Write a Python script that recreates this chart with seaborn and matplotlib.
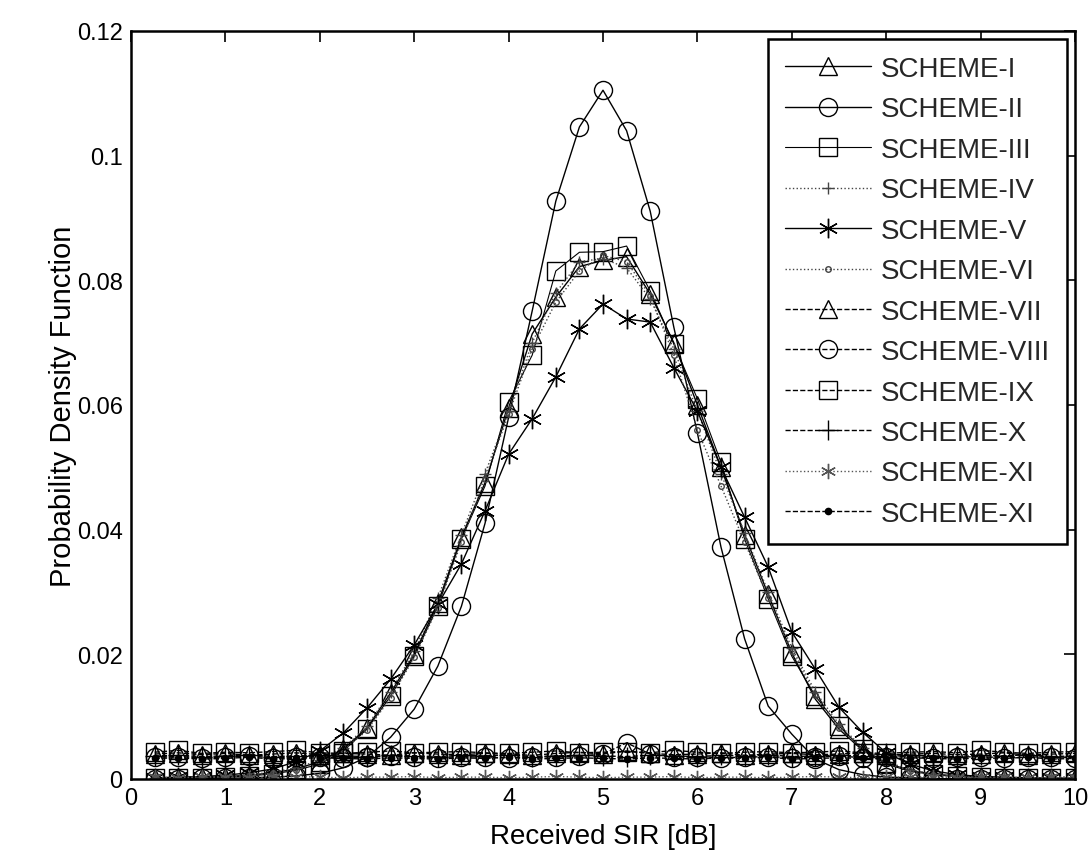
import numpy as np
import pandas as pd
import matplotlib
matplotlib.use("Agg")
import matplotlib.pyplot as plt
import seaborn as sns

# ---------------- data ----------------
sir_db = [0.25, 0.5, 0.75, 1.0, 1.25, 1.5, 1.75, 2.0, 2.25, 2.5,
          2.75, 3.0, 3.25, 3.5, 3.75, 4.0, 4.25, 4.5, 4.75, 5.0,
          5.25, 5.5, 5.75, 6.0, 6.25, 6.5, 6.75, 7.0, 7.25, 7.5,
          7.75, 8.0, 8.25, 8.5, 8.75, 9.0, 9.25, 9.5, 9.75, 10.0]

scheme_names = ["SCHEME-I", "SCHEME-II", "SCHEME-III", "SCHEME-IV", "SCHEME-V", "SCHEME-VI",
                "SCHEME-VII", "SCHEME-VIII", "SCHEME-IX", "SCHEME-X", "SCHEME-XI", "SCHEME-XI"]

pdf_I = [0.0002, 0.0002, 0.0003, 0.0004, 0.0006, 0.0010, 0.0016, 0.0028, 0.0048, 0.0082,
         0.0138, 0.0200, 0.0282, 0.0388, 0.0475, 0.0595, 0.0714, 0.0773, 0.0822, 0.0832,
         0.0838, 0.0778, 0.0700, 0.0600, 0.0500, 0.0392, 0.0296, 0.0202, 0.0128, 0.0080,
         0.0046, 0.0024, 0.0013, 0.0007, 0.0004, 0.0003, 0.0002, 0.0001, 0.0001, 0.0001]
pdf_II = [0.0000, 0.0000, 0.0001, 0.0001, 0.0002, 0.0003, 0.0005, 0.0009, 0.0018, 0.0035,
          0.0067, 0.0112, 0.0181, 0.0277, 0.0410, 0.0580, 0.0751, 0.0927, 0.1046, 0.1105,
          0.1040, 0.0911, 0.0725, 0.0555, 0.0372, 0.0225, 0.0117, 0.0072, 0.0032, 0.0015,
          0.0007, 0.0003, 0.0002, 0.0001, 0.0000, 0.0000, 0.0000, 0.0000, 0.0000, 0.0000]
pdf_III = [0.0001, 0.0001, 0.0002, 0.0003, 0.0005, 0.0008, 0.0014, 0.0024, 0.0045, 0.0080,
           0.0133, 0.0197, 0.0277, 0.0385, 0.0470, 0.0605, 0.0680, 0.0815, 0.0845, 0.0846,
           0.0855, 0.0783, 0.0698, 0.0610, 0.0508, 0.0385, 0.0289, 0.0197, 0.0133, 0.0085,
           0.0048, 0.0026, 0.0014, 0.0008, 0.0005, 0.0003, 0.0002, 0.0001, 0.0001, 0.0001]
pdf_IV = [0.0002, 0.0002, 0.0003, 0.0004, 0.0007, 0.0011, 0.0018, 0.0030, 0.0050, 0.0085,
          0.0140, 0.0205, 0.0290, 0.0392, 0.0490, 0.0590, 0.0700, 0.0780, 0.0830, 0.0835,
          0.0820, 0.0770, 0.0690, 0.0590, 0.0490, 0.0395, 0.0300, 0.0210, 0.0140, 0.0088,
          0.0050, 0.0028, 0.0015, 0.0008, 0.0005, 0.0003, 0.0002, 0.0001, 0.0001, 0.0001]
pdf_V = [0.0002, 0.0003, 0.0004, 0.0006, 0.0010, 0.0016, 0.0028, 0.0045, 0.0074, 0.0114,
         0.0160, 0.0215, 0.0280, 0.0345, 0.0430, 0.0521, 0.0578, 0.0645, 0.0722, 0.0762,
         0.0738, 0.0733, 0.0660, 0.0590, 0.0500, 0.0420, 0.0340, 0.0236, 0.0176, 0.0115,
         0.0075, 0.0042, 0.0024, 0.0013, 0.0007, 0.0004, 0.0003, 0.0002, 0.0001, 0.0001]
pdf_VI = [0.0001, 0.0002, 0.0002, 0.0003, 0.0005, 0.0009, 0.0015, 0.0026, 0.0046, 0.0078,
          0.0130, 0.0195, 0.0275, 0.0380, 0.0482, 0.0585, 0.0690, 0.0765, 0.0815, 0.0840,
          0.0830, 0.0775, 0.0680, 0.0560, 0.0470, 0.0380, 0.0290, 0.0205, 0.0135, 0.0082,
          0.0047, 0.0025, 0.0013, 0.0007, 0.0004, 0.0003, 0.0002, 0.0001, 0.0001, 0.0001]
pdf_VII = [0.0040, 0.0042, 0.0039, 0.0041, 0.0038, 0.0040, 0.0042, 0.0039, 0.0041, 0.0040,
           0.0038, 0.0042, 0.0040, 0.0039, 0.0041, 0.0040, 0.0038, 0.0041, 0.0043, 0.0040,
           0.0045, 0.0041, 0.0039, 0.0040, 0.0042, 0.0038, 0.0040, 0.0041, 0.0039, 0.0040,
           0.0042, 0.0038, 0.0040, 0.0041, 0.0039, 0.0040, 0.0042, 0.0038, 0.0040, 0.0041]
pdf_VIII = [0.0035, 0.0036, 0.0034, 0.0035, 0.0037, 0.0034, 0.0035, 0.0036, 0.0034, 0.0035,
            0.0037, 0.0035, 0.0034, 0.0036, 0.0035, 0.0034, 0.0036, 0.0035, 0.0037, 0.0040,
            0.0058, 0.0040, 0.0035, 0.0036, 0.0034, 0.0035, 0.0036, 0.0034, 0.0035, 0.0037,
            0.0034, 0.0035, 0.0036, 0.0034, 0.0035, 0.0036, 0.0034, 0.0035, 0.0036, 0.0034]
pdf_IX = [0.0043, 0.0046, 0.0041, 0.0043, 0.0042, 0.0044, 0.0046, 0.0042, 0.0041, 0.0043,
          0.0045, 0.0042, 0.0043, 0.0044, 0.0042, 0.0041, 0.0043, 0.0045, 0.0042, 0.0043,
          0.0044, 0.0042, 0.0046, 0.0043, 0.0041, 0.0043, 0.0044, 0.0042, 0.0043, 0.0045,
          0.0042, 0.0041, 0.0043, 0.0044, 0.0042, 0.0046, 0.0043, 0.0041, 0.0043, 0.0044]
pdf_X = [0.0037, 0.0038, 0.0036, 0.0037, 0.0039, 0.0036, 0.0037, 0.0038, 0.0037, 0.0036,
         0.0038, 0.0037, 0.0036, 0.0038, 0.0037, 0.0039, 0.0036, 0.0037, 0.0038, 0.0037,
         0.0036, 0.0038, 0.0037, 0.0036, 0.0038, 0.0037, 0.0039, 0.0036, 0.0037, 0.0038,
         0.0037, 0.0036, 0.0038, 0.0037, 0.0036, 0.0038, 0.0037, 0.0039, 0.0036, 0.0037]
pdf_XI = [0.0003, 0.0002, 0.0004, 0.0003, 0.0002, 0.0003, 0.0004, 0.0003, 0.0002, 0.0003,
          0.0003, 0.0004, 0.0002, 0.0003, 0.0003, 0.0002, 0.0003, 0.0004, 0.0003, 0.0002,
          0.0003, 0.0003, 0.0004, 0.0002, 0.0003, 0.0003, 0.0002, 0.0003, 0.0004, 0.0003,
          0.0002, 0.0003, 0.0003, 0.0004, 0.0002, 0.0003, 0.0003, 0.0002, 0.0003, 0.0004]
pdf_XII = [0.0033, 0.0034, 0.0032, 0.0033, 0.0035, 0.0032, 0.0033, 0.0034, 0.0033, 0.0032,
           0.0034, 0.0033, 0.0032, 0.0034, 0.0033, 0.0035, 0.0032, 0.0033, 0.0034, 0.0033,
           0.0032, 0.0034, 0.0033, 0.0032, 0.0034, 0.0033, 0.0035, 0.0032, 0.0033, 0.0034,
           0.0033, 0.0032, 0.0034, 0.0033, 0.0032, 0.0034, 0.0033, 0.0035, 0.0032, 0.0033]

series = [pdf_I, pdf_II, pdf_III, pdf_IV, pdf_V, pdf_VI,
          pdf_VII, pdf_VIII, pdf_IX, pdf_X, pdf_XI, pdf_XII]

x_ticks = [0, 1, 2, 3, 4, 5, 6, 7, 8, 9, 10]
y_ticks = [0, 0.02, 0.04, 0.06, 0.08, 0.1, 0.12]
y_tick_labels = ["0", "0.02", "0.04", "0.06", "0.08", "0.1", "0.12"]

# ---------------- styles ----------------
ASTERISK = (6, 2, 0)
styles = [
    dict(marker="^", linestyle="-", lw=1.0, ms=13, c="black"),
    dict(marker="o", linestyle="-", lw=1.0, ms=13, c="black"),
    dict(marker="s", linestyle="-", lw=0.8, ms=13, c="black"),
    dict(marker="+", linestyle=":", lw=1.0, ms=8, c="#444444"),
    dict(marker=ASTERISK, linestyle="-", lw=1.0, ms=14, c="black"),
    dict(marker="o", linestyle=":", lw=1.0, ms=4, c="#444444"),
    dict(marker="^", linestyle="--", lw=1.0, ms=13, c="black"),
    dict(marker="o", linestyle="--", lw=1.0, ms=13, c="black"),
    dict(marker="s", linestyle="--", lw=1.0, ms=13, c="black"),
    dict(marker="+", linestyle="--", lw=1.0, ms=15, c="black"),
    dict(marker=ASTERISK, linestyle=":", lw=1.0, ms=11, c="#555555"),
    dict(marker=".", linestyle="--", lw=1.0, ms=9, c="black"),
]

sns.set_style("white")
plt.rcParams["font.family"] = ["Liberation Sans", "DejaVu Sans"]

fig = plt.figure(figsize=(10.89, 8.54), dpi=100)
ax = fig.add_axes([131 / 1089, 1 - 780 / 854, (1075 - 131) / 1089, (780 - 32) / 854])

for name, vals, st in zip(scheme_names, series, styles):
    df = pd.DataFrame({"x": sir_db, "y": vals})
    filled = st["marker"] == "."
    sns.lineplot(data=df, x="x", y="y", ax=ax, color=st["c"],
                 linestyle=st["linestyle"], linewidth=st["lw"],
                 marker=st["marker"], markersize=st["ms"],
                 markerfacecolor=st["c"] if filled else "none",
                 markeredgecolor=st["c"], markeredgewidth=1.0,
                 label=name, sort=False, estimator=None)

ax.set_xlim(0, 10)
ax.set_ylim(0, 0.12)
ax.set_xticks(x_ticks)
ax.set_xticklabels([str(t) for t in x_ticks])
ax.set_yticks(y_ticks)
ax.set_yticklabels(y_tick_labels)
ax.tick_params(direction="in", length=8, width=1.2, top=True, right=True,
               labelsize=17, pad=6, colors="black")
for sp in ax.spines.values():
    sp.set_visible(True)
    sp.set_color("black")
    sp.set_linewidth(1.8)

ax.set_xlabel("Received SIR [dB]", fontsize=20, color="black", labelpad=10)
ax.set_ylabel("Probability Density Function", fontsize=21, color="black", labelpad=0)

leg = ax.legend(loc="upper right", fontsize=20, frameon=True, fancybox=False,
                edgecolor="black", framealpha=1, borderaxespad=0.3,
                handlelength=3.1, handletextpad=0.36, labelspacing=0.52,
                borderpad=0.6)
leg.get_frame().set_linewidth(1.8)

fig.savefig("out.png", dpi=100, facecolor="white")
